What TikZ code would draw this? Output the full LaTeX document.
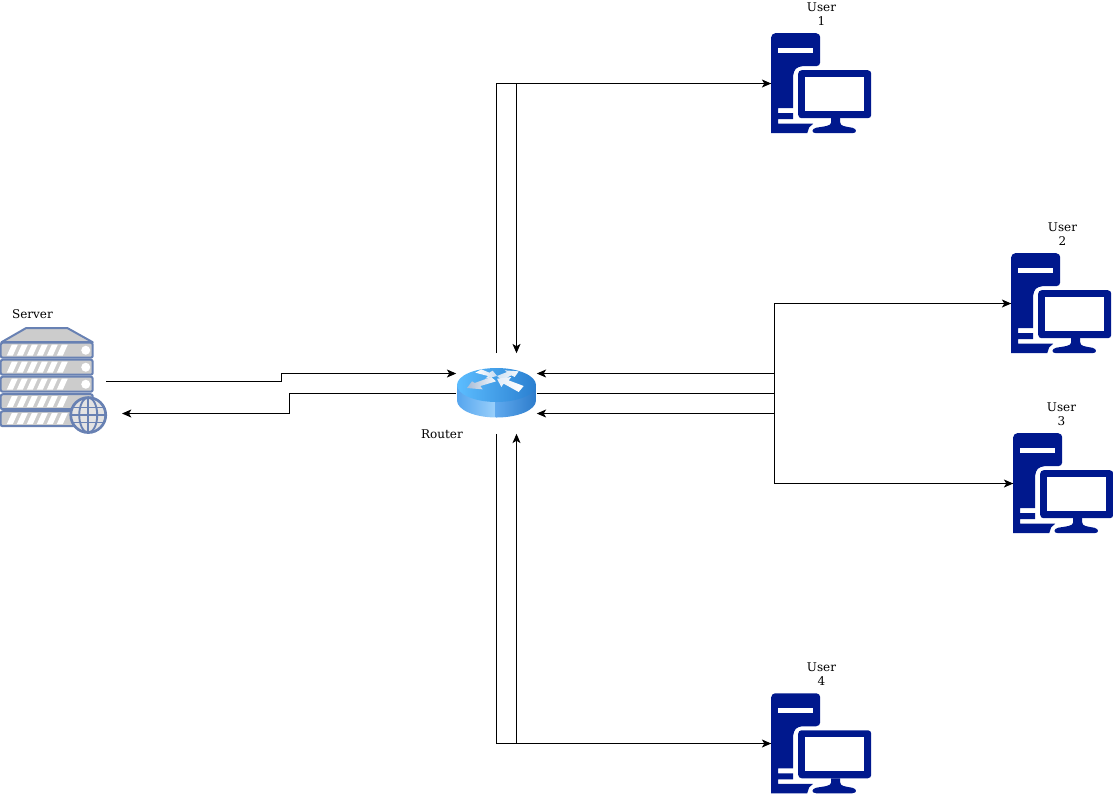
\documentclass[tikz,border=0pt]{standalone}
\usepackage{fontspec}
\setmainfont{DejaVu Serif}
\usetikzlibrary{arrows.meta}
\definecolor{towerblue}{HTML}{00188D}
\definecolor{rackline}{HTML}{6881B3}
\definecolor{rackfill}{HTML}{CCCCCC}
\definecolor{sideA}{HTML}{55A5EE}
\definecolor{sideB}{HTML}{9AD0FB}
\definecolor{sideC}{HTML}{5FA9EE}
\definecolor{sideD}{HTML}{2D7CCB}
\definecolor{topA}{HTML}{5CBDFF}
\definecolor{topB}{HTML}{2A7FD0}
\definecolor{wingA}{HTML}{FFFFFF}
\definecolor{wingB}{HTML}{C8DBF0}
\definecolor{wingC}{HTML}{A8BCD6}
\definecolor{wingD}{HTML}{F4F8FD}
\definecolor{wingE}{HTML}{D2E2F2}
\definecolor{wingF}{HTML}{F4F8FC}
\definecolor{wingG}{HTML}{E4EDF8}
\definecolor{wingH}{HTML}{FFFFFF}
\tikzset{
	hostbox/.style = {inner sep=0pt, minimum width=75pt, minimum height=75pt},
	tag/.style = {align=center, inner sep=0pt, font=\fontsize{9}{10.5}\selectfont},
	flow/.style = {-{Stealth[length=7pt,width=6pt,inset=1.8pt]}, line width=0.75pt},
	usericon/.pic = {
		\fill[towerblue, rounded corners=3pt] (0,100) -- (0,0) -- (49,0) -- (49,33) -- (27,33) -- (22,38)
			[sharp corners] -- (22,75) -- (7,75) -- (7,80) -- (22,80) -- (22,86) -- (7,86) -- (7,90.5) -- (42,90.5) -- (38,94) -- (36,100) -- cycle;
		\fill[white] (7,15) rectangle (42,19.5);
		\fill[towerblue, rounded corners=2.5pt] (27,37) rectangle (100,85);
		\fill[white] (34,44) rectangle (93,78);
		\fill[towerblue] (60,85) -- (69,85) -- (69,89) .. controls (69,93) and (73,93) .. (81,94.5) .. controls (86,95.5) and (86,100) .. (81,100) -- (45,100) .. controls (40,100) and (40,95.5) .. (45,94.5) .. controls (53,93) and (60,93) .. (60,89) -- cycle;
	},
	servericon/.pic = {
		\draw[rackline, fill=rackfill, line width=1.5pt, line join=round] (1.7,14) -- (26,0) -- (68,0) -- (93,14) -- cycle;
		\foreach \ty in {14.5,31.5,48.5,66,83} {
			\draw[rackline, fill=rackfill, line width=1.5pt, rounded corners=1.5pt] (1,\ty) rectangle (93,\ty+15);
			\foreach \tx in {0,...,5}
				\fill[white] (7+10*\tx,\ty+13) -- (12+10*\tx,\ty+2) -- (18+10*\tx,\ty+2) -- (13+10*\tx,\ty+13) -- cycle;
			\fill[white] (86,\ty+7.5) circle (4.5);
		}
		\draw[rackline, fill=rackfill!55!white, line width=2pt] (88.5,86.8) circle (17.5);
		\draw[rackline, line width=1.4pt] (88.5,86.8) ellipse [x radius=9, y radius=17.5];
		\draw[rackline, line width=1.4pt] (88.5,69.3) -- (88.5,104.3);
		\draw[rackline, line width=1.4pt] (71,86.8) -- (106,86.8);
		\draw[rackline, line width=1.4pt] (72.6,79.3) -- (104.4,79.3);
		\draw[rackline, line width=1.4pt] (72.6,94.3) -- (104.4,94.3);
	},
	routericon/.pic = {
		\begin{scope}
			\clip (-39.5,-8.5) -- (-39.5,7) .. controls (-39.5,16.4) and (-21.8,24) .. (0,24) .. controls (21.8,24) and (39.5,16.4) .. (39.5,7) -- (39.5,-8.5) -- cycle;
			\shade[left color=sideA, right color=sideB] (-39.5,-26) rectangle (-1,25);
			\shade[left color=sideC, right color=sideD] (-1,-26) rectangle (39.5,25);
		\end{scope}
		\shade[left color=topA, right color=topB] (0,-8.5) ellipse [x radius=39.5, y radius=17];
		\begin{scope}[shift={(-44.5,-31.5)}, x=0.25pt, y=-0.25pt]
			\shade[left color=wingA, right color=wingB] (70,32) -- (88,22) -- (112,32) -- (122,26) -- (135,42) -- (100,50) -- (108,42) -- cycle;
			\shade[left color=wingC, right color=wingD] (45,78) -- (60,58) -- (68,63) -- (118,45) -- (132,58) -- (85,72) -- (92,82) -- cycle;
			\shade[left color=wingE, right color=wingF] (200,28) -- (188,45) -- (178,40) -- (150,55) -- (135,42) -- (165,30) -- (158,25) -- cycle;
			\shade[left color=wingG, right color=wingH] (135,50) -- (178,45) -- (170,55) -- (215,72) -- (200,90) -- (155,65) -- (148,75) -- cycle;
		\end{scope}
	}
}
\begin{document}
\begin{tikzpicture}[x=0.75pt,y=-0.75pt]
	\useasboundingbox (0,0) rectangle (1113,794);
	\node[hostbox, minimum width=60pt, minimum height=60pt] (router) at (496.5,393.5) {};
	\node[hostbox, minimum width=79.5pt, minimum height=79.5pt, node distance=332.625pt] (server) [yshift=9pt, left of=router] {};
	\node[hostbox, node distance=243.75pt] (user1) [yshift=232.5pt, right of=router] {};
	\node[hostbox, node distance=180pt] (user2) [yshift=-165pt, right of=user1] {};
	\node[hostbox, node distance=135pt] (user3) [xshift=1.5pt, below of=user2] {};
	\node[hostbox, node distance=495pt] (user4) [below of=user1] {};

	\pic at (server.north west) {servericon};
	\pic at (router.center) {routericon};
	\pic at (user1.north west) {usericon};
	\pic at (user2.north west) {usericon};
	\pic at (user3.north west) {usericon};
	\pic at (user4.north west) {usericon};

	\node[tag, node distance=50.25pt] (servertag) [xshift=-15.4pt, above of=server] {Server};
	\node[tag, node distance=30.75pt] (routertag) [xshift=-40.9pt, below of=router] {Router};
	\node[tag, node distance=52pt] (user1tag) [above of=user1] {User\\1};
	\node[tag, node distance=52pt] (user2tag) [xshift=0.75pt, above of=user2] {User\\2};
	\node[tag, node distance=52pt] (user3tag) [xshift=-1.5pt, above of=user3] {User\\3};
	\node[tag, node distance=52pt] (user4tag) [above of=user4] {User\\4};

	\coordinate (routertop) at ([xshift=15pt]router.north);
	\coordinate (routerbot) at ([xshift=15pt]router.south);
	\coordinate (routerwest) at ([yshift=15pt]router.west);
	\coordinate (routerup) at ([yshift=15pt]router.east);
	\coordinate (routerdown) at ([yshift=-15pt]router.east);
	\coordinate (hub) at (774.5,393.5);
	\coordinate (hubup) at (774.5,373.5);
	\coordinate (hubdown) at (774.5,413.5);
	\coordinate (stepout) at (281.5,381.5);
	\coordinate (stepback) at (289.5,393.5);
	\coordinate (serverback) at (122,413.5);

	\draw[flow] (server.east)--(stepout)|-(routerwest);
	\draw[flow] (router.west)--(stepback)|-(serverback);
	\draw[flow] (router.north)|-(user1.west);
	\draw[flow] (user1.west)-|(routertop);
	\draw[flow] (router.south)|-(user4.west);
	\draw[flow] (user4.west)-|(routerbot);
	\draw[flow] (router.east)--(hub)|-(user2.west);
	\draw[flow] (hub)|-(user3.west);
	\draw[flow] (user2.west)-|(hubup)--(routerup);
	\draw[flow] (user3.west)-|(hubdown)--(routerdown);
\end{tikzpicture}
\end{document}
